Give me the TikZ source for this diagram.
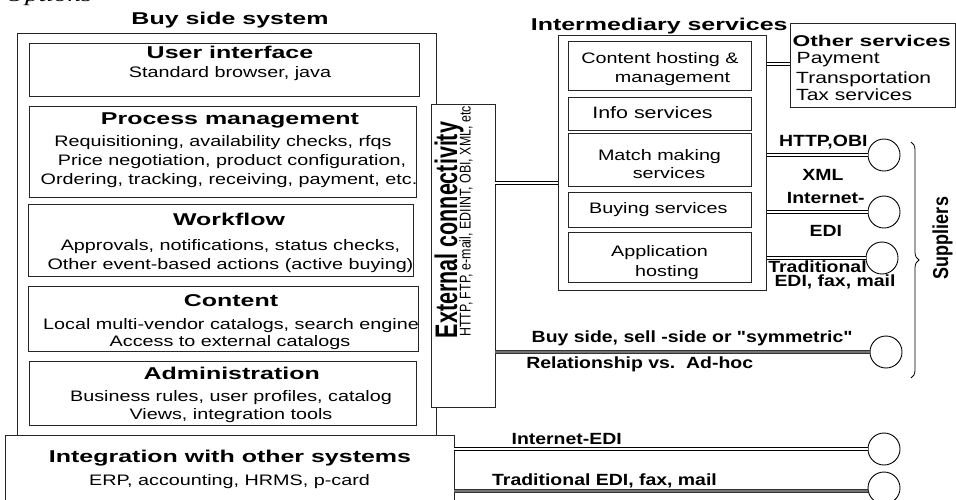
\documentclass[tikz,border=0pt]{standalone}
\usepackage{fontspec}
\usepackage{graphicx}
\setmainfont{Liberation Sans}
\newfontfamily\hfont{Liberation Sans}[FakeStretch=1.46]
\newfontfamily\rfont{Liberation Sans}[FakeStretch=1.3]
\newfontfamily\lfont{Liberation Sans}[FakeStretch=1.2]
\newfontfamily\serfont{Liberation Serif}[FakeStretch=1.4]
\usetikzlibrary{decorations.pathreplacing}
\tikzset{
  hdr/.style={inner sep=0pt, anchor=base, font=\hfont\bfseries\fontsize{17.1}{20}\selectfont},
  txt/.style={inner sep=0pt, anchor=base, font=\rfont\fontsize{15.2}{18}\selectfont},
  lbl/.style={inner sep=0pt, anchor=base, font=\lfont\bfseries\fontsize{16.2}{18}\selectfont},
  box/.style={draw=black!85, line width=0.8pt, inner sep=0pt, rectangle},
  wbox/.style={box, fill=white},
  dbl/.style={draw=black, line width=0.9pt, double=white, double distance=2pt},
  dkl/.style={draw=black!80, line width=0.9pt, double=black!55, double distance=1.6pt},
  sup/.style={draw=black, line width=0.9pt, circle, minimum size=32pt, inner sep=0pt},
}
\begin{document}
\begin{tikzpicture}[x=1pt,y=-1pt]
\useasboundingbox (0,0) rectangle (956,499);
% cropped caption fragment
\node[inner sep=0pt, anchor=base west, font=\serfont\itshape\fontsize{19.6}{22}\selectfont] (cap) at (5,1) {Options};
% ---------- Buy side system ----------
\node[hdr] (tbuy) at (230,24) {Buy side system};
\node[box, minimum width=419pt, minimum height=406.7pt] (buy) at (226.5,236.65) {};
\node[box, minimum width=390pt, minimum height=52.7pt] (ui) at (224.3,69.65) {};
\node[hdr] (tui) at (230,58.3) {User interface};
\node[txt] (sui) at (230,77.3) {Standard browser, java};
\node[box, minimum width=386.7pt, minimum height=91.5pt] (pm) at (222.65,151.75) {};
\node[hdr] (tpm) at (230,124.3) {Process management};
\node[txt] (spm1) at (223,146.7) {Requisitioning, availability checks, rfqs};
\node[txt] (spm2) at (232,165.5) {Price negotiation, product configuration,};
\node[txt] (spm3) at (229,184.3) {Ordering, tracking, receiving, payment, etc.};
\node[box, minimum width=385pt, minimum height=72pt] (wf) at (220.8,240) {};
\node[hdr] (twf) at (229,225) {Workflow};
\node[txt] (swf1) at (230.5,250) {Approvals, notifications, status checks,};
\node[txt] (swf2) at (230.5,269.3) {Other event-based actions (active buying)};
\node[box, minimum width=390pt, minimum height=65pt] (ct) at (223.3,319.2) {};
\node[hdr] (tct) at (231,306.7) {Content};
\node[txt] (sct1) at (231,329.3) {Local multi-vendor catalogs, search engine};
\node[txt] (sct2) at (230,346.7) {Access to external catalogs};
\node[box, minimum width=387.4pt, minimum height=63.3pt] (ad) at (223,393.35) {};
\node[hdr] (tad) at (231.7,379.3) {Administration};
\node[txt] (sad1) at (231,401.7) {Business rules, user profiles, catalog};
\node[txt] (sad2) at (231,419.3) {Views, integration tools};
\node[wbox, minimum width=449pt, minimum height=74.3pt] (integ) at (229.5,472.85) {};
\node[hdr] (tin) at (230,462.7) {Integration with other systems};
\node[txt] (sin) at (229.5,485.7) {ERP, accounting, HRMS, p-card};
% ---------- External connectivity ----------
\node[wbox, minimum width=64pt, minimum height=303.7pt] (ext) at (463,255.85) {};
\node[inner sep=0pt, anchor=base, rotate=90, font=\bfseries\fontsize{21.5}{24}\selectfont] (text) at (457,230) {\scalebox{1}[1.45]{External connectivity}};
\node[inner sep=0pt, anchor=base, rotate=90, font=\fontsize{12.4}{14}\selectfont] (sext) at (470.7,221.5) {\scalebox{1}[1.25]{HTTP, FTP, e-mail, EDIINT, OBI, XML, etc}};
% ---------- Intermediary services ----------
\node[hdr] (tim) at (659.2,30) {Intermediary services};
\node[box, minimum width=208.4pt, minimum height=255pt] (inter) at (662.5,162.5) {};
\node[box, minimum width=183.4pt, minimum height=49pt] (ch) at (660,66.2) {};
\node[txt] (sch1) at (660,63) {Content hosting \&};
\node[txt] (sch2) at (672.5,82) {management};
\node[box, minimum width=183.4pt, minimum height=32.7pt] (info) at (660,113.65) {};
\node[txt, font=\rfont\fontsize{16.5}{18}\selectfont] (sinfo) at (652.5,118.3) {Info services};
\node[box, minimum width=183.4pt, minimum height=53.4pt] (mm) at (660,160) {};
\node[txt] (smm1) at (659.5,160) {Match making};
\node[txt] (smm2) at (669,178.3) {services};
\node[box, minimum width=183.4pt, minimum height=34.6pt] (bs) at (660,210) {};
\node[txt] (sbs) at (658.3,213.3) {Buying services};
\node[box, minimum width=183.4pt, minimum height=50pt] (ah) at (660,257.7) {};
\node[txt] (sah1) at (659.5,256.7) {Application};
\node[txt] (sah2) at (667,276.7) {hosting};
% ---------- Other services ----------
\node[box, minimum width=165pt, minimum height=84pt] (other) at (872.5,65.3) {};
\node[hdr, font=\hfont\bfseries\fontsize{15.6}{18}\selectfont] (tos) at (871.7,46.7) {Other services};
\node[txt, anchor=base west, font=\rfont\fontsize{16.2}{18}\selectfont] (os1) at (796.5,63.3) {Payment};
\node[txt, anchor=base west, font=\rfont\fontsize{16.2}{18}\selectfont] (os2) at (796,83.3) {Transportation};
\node[txt, anchor=base west, font=\rfont\fontsize{16.2}{18}\selectfont] (os3) at (796,100) {Tax services};
% ---------- Suppliers ----------
\node[sup] (c1) at (884,155) {};
\node[sup] (c2) at (884,212) {};
\node[sup] (c3) at (882,258) {};
\node[sup] (c4) at (886,352) {};
\node[sup] (c5) at (884,449) {};
\node[sup] (c6) at (884,488) {};
\coordinate (br1) at (911,142);
\coordinate (br2) at (911,378);
\draw[decorate, decoration={brace, amplitude=8pt}, line width=0.8pt] (br1) -- (br2);
\node[inner sep=0pt, anchor=base, rotate=90, font=\bfseries\fontsize{18}{20}\selectfont] (tsup) at (948,238) {\scalebox{1}[1.2]{Suppliers}};
% ---------- connectors ----------
\coordinate (j1) at (0,183);
\coordinate (j2) at (0,64);
\coordinate (j6) at (0,491);
\draw[dbl] (ext.east |- j1) -- (inter.west |- j1);
\draw[dbl] (inter.east |- j2) -- (other.west |- j2);
\draw[dbl] (inter.east |- c1) -- (c1.west);
\draw[dbl] (inter.east |- c2) -- (c2.west);
\draw[dbl] (inter.east |- c3) -- (c3.west);
\draw[dkl] (ext.east |- c4) -- (c4.west);
\draw[dbl] (integ.east |- c5) -- (c5.west);
\draw[dkl] (integ.east |- j6) -- (c6.west |- j6);
% ---------- labels ----------
\node[lbl] (l1) at (823.3,146) {HTTP,OBI};
\node[lbl] (l2) at (823,180) {XML};
\node[lbl] (l3) at (825.8,203.3) {Internet-};
\node[lbl] (l4) at (825.8,236.7) {EDI};
\node[lbl] (l5) at (817.5,272.7) {Traditional};
\node[lbl] (l6) at (835,286.7) {EDI, fax, mail};
\node[lbl] (l7) at (692.2,342.7) {Buy side, sell -side or "symmetric"};
\node[lbl] (l8) at (639.7,368.3) {Relationship vs.\ \ Ad-hoc};
\node[lbl] (l9) at (566.7,444) {Internet-EDI};
\node[lbl] (l10) at (604.5,485) {Traditional EDI, fax, mail};
\end{tikzpicture}
\end{document}
